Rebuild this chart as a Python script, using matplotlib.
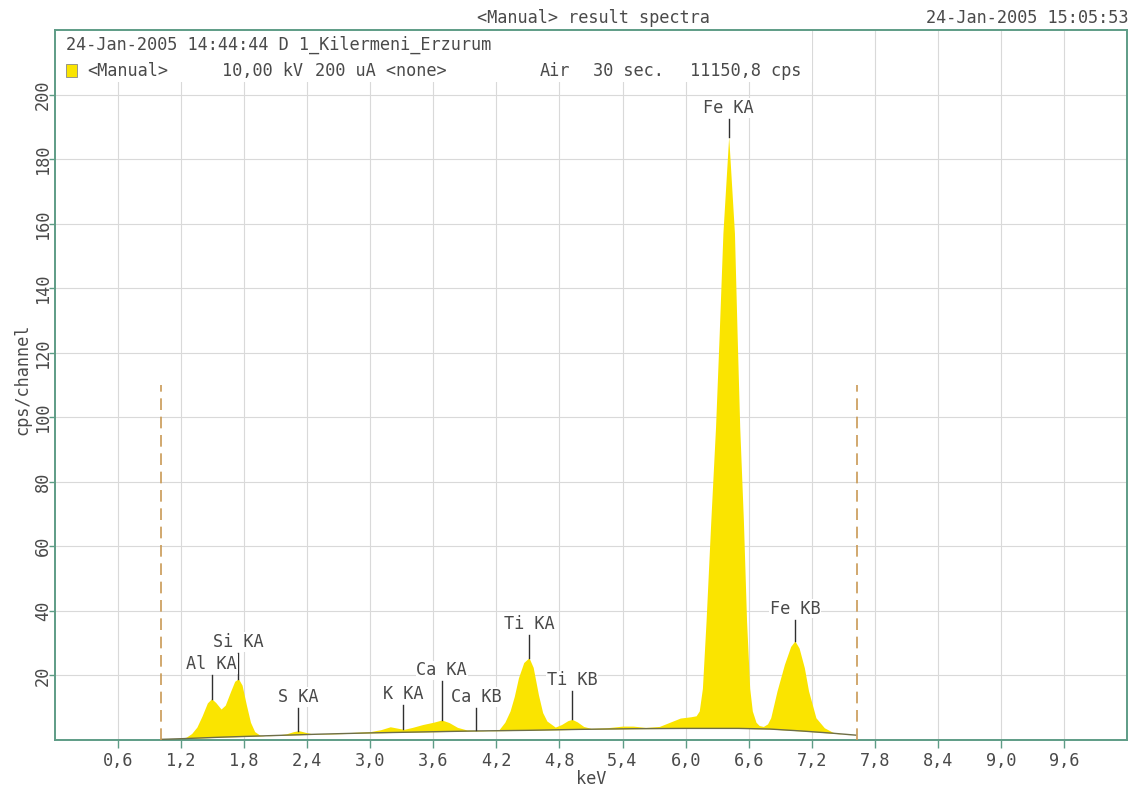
import numpy as np
import matplotlib
matplotlib.use("Agg")
import matplotlib.pyplot as plt
from matplotlib.patches import Rectangle

# --- measured spectrum (keV, cps/channel) ---
spec_kev = [1.01, 1.20, 1.25, 1.30, 1.35, 1.40, 1.45, 1.49, 1.53, 1.58,
            1.62, 1.67, 1.71, 1.745, 1.78, 1.82, 1.86, 1.90, 1.95, 2.00,
            2.10, 2.20, 2.27, 2.32, 2.38, 2.45, 2.60, 2.80, 3.00, 3.10,
            3.19, 3.27, 3.32, 3.40, 3.50, 3.60, 3.68, 3.75, 3.83, 3.92,
            4.01, 4.12, 4.22, 4.28, 4.33, 4.37, 4.41, 4.46, 4.51, 4.55,
            4.60, 4.64, 4.68, 4.76, 4.82, 4.88, 4.92, 4.97, 5.03, 5.10,
            5.25, 5.40, 5.50, 5.62, 5.75, 5.85, 5.95, 6.05, 6.10, 6.13,
            6.16, 6.195, 6.24, 6.285, 6.32, 6.355, 6.41, 6.465, 6.49, 6.515,
            6.55, 6.58, 6.61, 6.635, 6.67, 6.70, 6.74, 6.78, 6.81, 6.87,
            6.94, 7.00, 7.04, 7.08, 7.13, 7.17, 7.24, 7.32, 7.40, 7.50,
            7.62]
spec_cps = [0.2, 0.5, 0.9, 2.0, 4.0, 7.5, 11.5, 12.8, 11.6, 9.6,
            10.8, 15.0, 18.2, 19.0, 17.0, 11.0, 5.5, 2.6, 1.5, 1.3,
            1.5, 1.9, 2.6, 2.9, 2.4, 1.9, 2.0, 2.3, 2.6, 3.2,
            4.1, 3.6, 3.3, 3.9, 4.8, 5.5, 6.2, 5.4, 3.9, 3.1,
            3.0, 2.9, 3.0, 5.5, 9.0, 13.5, 19.3, 24.0, 25.5, 22.5,
            14.0, 8.5, 5.9, 4.0, 4.8, 6.0, 6.4, 5.6, 4.2, 3.6,
            3.8, 4.3, 4.3, 3.9, 4.2, 5.5, 6.8, 7.2, 7.5, 9.0,
            16.0, 37.0, 68.0, 97.0, 126.0, 157.0, 187.0, 157.0, 126.0, 97.0,
            68.0, 37.0, 16.0, 9.0, 5.5, 4.5, 4.2, 5.0, 6.9, 15.2,
            23.4, 29.0, 30.7, 28.5, 22.4, 15.2, 6.9, 3.8, 2.4, 1.8,
            1.5]

# continuum / background under the peaks
bg_kev = [1.01, 1.2, 1.6, 2.0, 2.5, 3.0, 3.5, 4.0, 4.5, 5.0, 5.5, 6.0, 6.5, 6.8, 7.1, 7.4, 7.62]
bg_cps = [0.2, 0.4, 0.9, 1.3, 1.8, 2.2, 2.5, 2.8, 3.0, 3.3, 3.5, 3.6, 3.6, 3.4, 2.8, 2.1, 1.5]

# identified lines
line_names = ["Al KA", "Si KA", "S KA", "K KA", "Ca KA", "Ca KB", "Ti KA", "Ti KB", "Fe KA", "Fe KB"]
line_kev = [1.49, 1.745, 2.31, 3.31, 3.68, 4.01, 4.51, 4.92, 6.41, 7.04]
label_cps = [20.8, 27.6, 10.5, 11.5, 18.8, 10.5, 33.2, 15.7, 193.0, 37.9]

# region of interest
roi = [1.01, 7.63]
roi_top = 110

xticks = [0.6, 1.2, 1.8, 2.4, 3.0, 3.6, 4.2, 4.8, 5.4, 6.0, 6.6, 7.2, 7.8, 8.4, 9.0, 9.6]
yticks = [20, 40, 60, 80, 100, 120, 140, 160, 180, 200]

W, H = 1142, 794
FONT = "DejaVu Sans Mono"
FS = 12.2
TXT = "#4a4a4a"
FRAME = "#5e9c86"
YELLOW = "#fae400"


def fx(px):
    return px / W


def fy(py):
    return 1 - py / H


fig = plt.figure(figsize=(W / 100, H / 100), dpi=100)
fig.patch.set_facecolor("white")
ax = fig.add_axes([fx(55), fy(740), (1127 - 55) / W, (740 - 30) / H])

ax.set_xlim(0, 10.2)
ax.set_ylim(0, 220)

for s in ax.spines.values():
    s.set_color(FRAME)
    s.set_linewidth(1.4)

ax.set_xticks(xticks)
ax.set_xticklabels([f"{v:.1f}".replace(".", ",") for v in xticks])
ax.set_yticks(yticks)
ax.set_yticklabels([str(v) for v in yticks], rotation=90, va="center")
ax.tick_params(axis="both", direction="out", width=1.0, color=FRAME,
               labelcolor=TXT, labelsize=FS)
for lab in ax.get_xticklabels() + ax.get_yticklabels():
    lab.set_fontfamily(FONT)
ax.tick_params(axis="x", length=6, pad=3)
ax.tick_params(axis="y", length=4, pad=-2)

ax.grid(True, color="#d9d9d9", linewidth=0.8)
ax.set_axisbelow(True)

# spectrum filled above the continuum
sk = np.array(spec_kev)
sc = np.array(spec_cps)
bc = np.interp(sk, bg_kev, bg_cps)
ax.fill_between(sk, bc, sc, color=YELLOW, linewidth=0, zorder=2)
ax.plot(bg_kev, bg_cps, color="#6e6e48", linewidth=1.0, zorder=3)

# ROI limits
for x in roi:
    ax.plot([x, x], [0, roi_top], color="#c99a55", linewidth=1.2,
            dashes=(7, 4), zorder=3)

# line markers and labels
for name, e, top in zip(line_names, line_kev, label_cps):
    base = np.interp(e, sk, sc)
    ax.plot([e, e], [base, top - 0.6], color="#303030", linewidth=1.0, zorder=4)
    ax.text(e, top, name, ha="center", va="bottom", fontsize=FS,
            family=FONT, color=TXT, zorder=5,
            bbox=dict(facecolor="white", edgecolor="none", pad=0.5))

ax.set_xlabel("keV", fontsize=FS, family=FONT, color=TXT, labelpad=0)
ax.set_ylabel("cps/channel", fontsize=FS, family=FONT, color=TXT, va="center")
ax.yaxis.set_label_coords((22 - 55) / (1127 - 55), (740 - 379) / (740 - 30))

# header block inside the frame
ax.add_patch(Rectangle((fx(57), fy(82)), fx(812 - 57), (82 - 31) / H,
                       transform=fig.transFigure, facecolor="white",
                       edgecolor="none", zorder=6))
fig.text(fx(66), fy(45), "24-Jan-2005 14:44:44 D 1_Kilermeni_Erzurum",
         fontsize=FS, family=FONT, color=TXT, va="center", zorder=7)
fig.patches.append(Rectangle((fx(66), fy(77)), 11 / W, 13 / H,
                             transform=fig.transFigure, facecolor=YELLOW,
                             edgecolor="#888888", linewidth=0.6, zorder=7))
header = [(87, "<Manual>"), (222, "10,00 kV"), (315, "200 uA <none>"),
          (540, "Air"), (593, "30 sec."), (690, "11150,8 cps")]
for x, s in header:
    fig.text(fx(x), fy(71), s, fontsize=FS, family=FONT, color=TXT,
             va="center", zorder=7)

# title row
fig.text(fx(593), fy(18), "<Manual> result spectra", fontsize=FS,
         family=FONT, color=TXT, ha="center", va="center")
fig.text(fx(1128), fy(18), "24-Jan-2005 15:05:53", fontsize=FS,
         family=FONT, color=TXT, ha="right", va="center")

fig.savefig("out.png", dpi=100)
